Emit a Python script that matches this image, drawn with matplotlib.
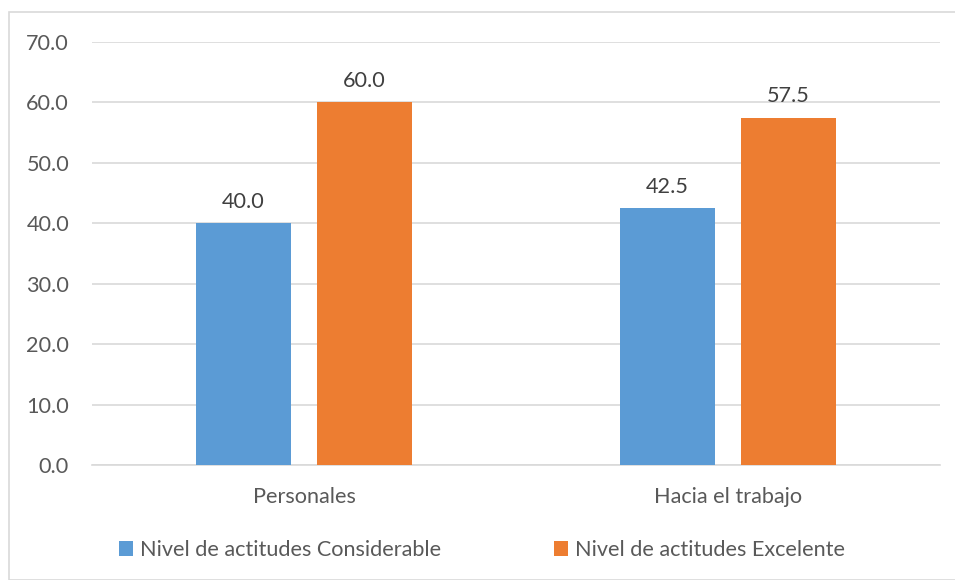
import matplotlib
matplotlib.use("Agg")
import matplotlib.pyplot as plt
from matplotlib.patches import Rectangle
import numpy as np

categories = ["Personales", "Hacia el trabajo"]
series_names = ["Nivel de actitudes Considerable", "Nivel de actitudes Excelente"]
considerable = [40.0, 42.5]
excelente = [60.0, 57.5]
colors = ["#5B9BD5", "#ED7D31"]

plt.rcParams['font.family'] = ['Lato', 'DejaVu Sans']
txt = "#595959"
FS = 15.6

W, H = 955, 580
fig = plt.figure(figsize=(W/100, H/100), dpi=100)
ax = fig.add_axes([92/W, 1-465/H, (940-92)/W, (465-42)/H])

x = np.arange(len(categories))
bw = 0.226
off = (bw + 0.059) / 2
for vals, c, name, o in [(considerable, colors[0], series_names[0], -off),
                         (excelente, colors[1], series_names[1], off)]:
    bars = ax.bar(x + o, vals, bw, color=c, label=name, zorder=3)
    for b, v in zip(bars, vals):
        ax.text(b.get_x() + b.get_width()/2, v + 2.5, f"{v:.1f}", ha='center', va='baseline',
                fontsize=FS, color="#404040")

ax.set_xlim(-0.5, 1.5)
ax.set_ylim(0, 70)
ax.set_yticks(np.arange(0, 71, 10))
ax.set_yticklabels([f"{v:.1f}" for v in np.arange(0, 71, 10)])
ax.set_xticks(x)
ax.set_xticklabels(categories)
ax.grid(axis='y', color="#D9D9D9", linewidth=1.2, zorder=0)
for s in ['top', 'right', 'left']:
    ax.spines[s].set_visible(False)
ax.spines['bottom'].set_color("#D9D9D9")
ax.spines['bottom'].set_linewidth(1.2)
ax.tick_params(axis='both', length=0, labelsize=FS, colors=txt)
ax.tick_params(axis='y', pad=16.5)
ax.tick_params(axis='x', pad=16)

leg = fig.legend(loc='center left', bbox_to_anchor=(119/W, 1-550/H), ncol=2, frameon=False,
                 fontsize=FS, handlelength=0.65, handleheight=0.65, handletextpad=0.33,
                 columnspacing=5.2, borderpad=0, borderaxespad=0, labelcolor=txt)

fig.patches.append(Rectangle((9/W, 0), 1.0, 1-12/H, transform=fig.transFigure,
                             fill=False, edgecolor="#D9D9D9", linewidth=1.2))

fig.savefig("out.png", dpi=100)
